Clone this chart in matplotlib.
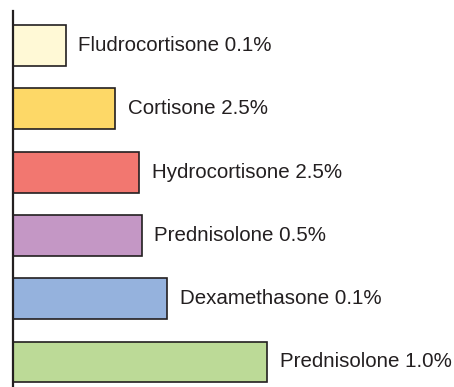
import matplotlib

matplotlib.use("Agg")
import matplotlib.pyplot as plt  # noqa: E402

# Topical corticosteroid preparations, shortest bar on top
labels = [
    "Fludrocortisone 0.1%",
    "Cortisone 2.5%",
    "Hydrocortisone 2.5%",
    "Prednisolone 0.5%",
    "Dexamethasone 0.1%",
    "Prednisolone 1.0%",
]
potency = [53, 102, 126, 129, 154, 254]
colors = ["#FFF9D6", "#FDD867", "#F27770", "#C497C5", "#95B2DD", "#BCDA97"]

INK = "#231F20"

fig = plt.figure(figsize=(4.54, 3.87), dpi=100)
ax = fig.add_axes([12.5 / 454, 0.0, 1 - 12.5 / 454, 1 - 11 / 387])

pos = list(range(len(labels)))
ax.barh(pos, potency, height=0.645, color=colors, edgecolor=INK, linewidth=1.2)
for y, v, lab in zip(pos, potency, labels):
    ax.text(v + 13, y, lab, va="center", ha="left", fontsize=14.8,
            color=INK, family=["Liberation Sans", "DejaVu Sans"])

ax.set_xlim(0, 454 - 12.5)
ax.set_ylim(5.395, -0.545)
for side in ("top", "right", "bottom"):
    ax.spines[side].set_visible(False)
ax.spines["left"].set_linewidth(1.6)
ax.spines["left"].set_color(INK)
ax.set_xticks([])
ax.set_yticks([])
ax.patch.set_alpha(0)

fig.savefig("out.png", dpi=100)
